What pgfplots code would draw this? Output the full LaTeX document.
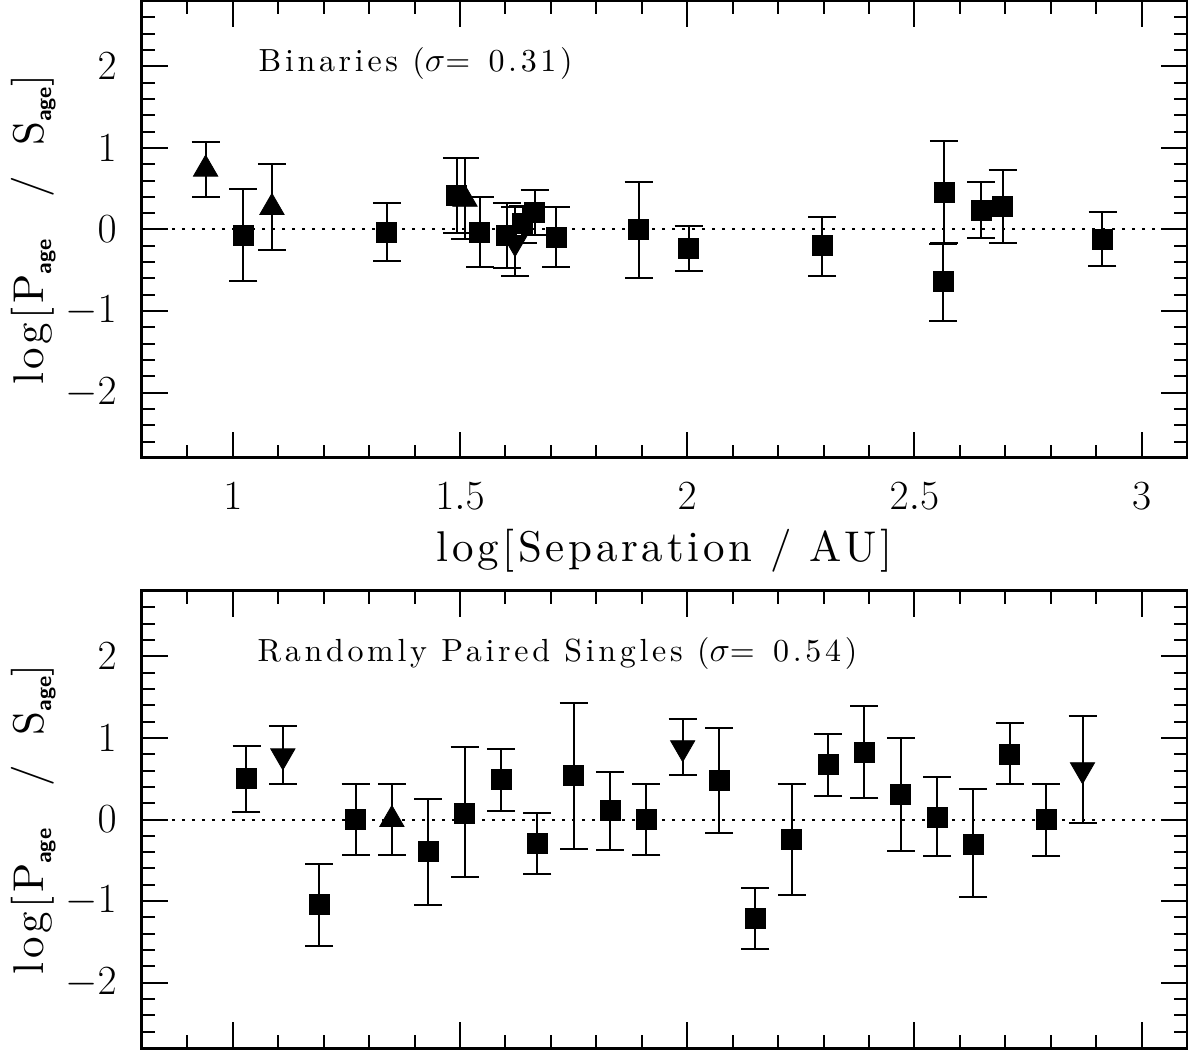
\documentclass[border=0pt]{standalone}
\usepackage{fontspec}
\usepackage{pgfplots}
\pgfplotsset{compat=1.18}
\newfontfamily\lblfont{lmroman10-regular.otf}[LetterSpace=8.5]
\newfontfamily\annfont{lmroman10-regular.otf}[LetterSpace=11.5]
\newfontfamily\subfont{lmsans10-bold.otf}

\pgfplotsset{
 panel/.style={
  scale only axis, width=522.5pt, height=228.5pt,
  xmin=0.8, xmax=3.1, ymin=-2.8, ymax=2.8,
  xtick={1,1.5,2,2.5,3},
  minor xtick={0.9,1.1,1.2,1.3,1.4,1.6,1.7,1.8,1.9,2.1,2.2,2.3,2.4,2.6,2.7,2.8,2.9,3.1},
  ytick={-2,-1,0,1,2},
  minor ytick={-2.6,-2.4,-2.2,-1.8,-1.6,-1.4,-1.2,-0.8,-0.6,-0.4,-0.2,0.2,0.4,0.6,0.8,1.2,1.4,1.6,1.8,2.2,2.4,2.6},
  tick align=inside,
  major tick length=13pt, minor tick length=6.5pt,
  every tick/.style={black, line width=1pt},
  axis line style={line width=1.5pt},
  tick label style={font=\fontsize{20}{24}\selectfont, inner sep=0pt},
  xticklabel style={yshift=-12pt},
  yticklabel style={xshift=-12.5pt},
 },
 ebar/.style={error bars/.cd, y dir=both, y explicit,
   error bar style={line width=1pt, black},
   error mark options={rotate=90, line width=1pt, mark size=7pt, black}},
 sq/.style={only marks, mark=square*, mark size=5pt, black, mark options={fill=black}, ebar},
 up/.style={only marks, mark=triangle*, mark size=7pt, black, mark options={fill=black}, ebar},
 dn/.style={only marks, mark=triangle*, mark size=7pt, black, mark options={fill=black, rotate=180}, ebar},
 zero/.style={black, line width=1pt, dash pattern=on 1.3pt off 3.7pt, forget plot},
}
\newcommand\ylab{\fontsize{21.5}{25}\lblfont log[P\raisebox{-4.2pt}{\fontsize{11}{12}\subfont age}\ \kern12pt/\kern6pt\ S\raisebox{-4.2pt}{\fontsize{11}{12}\subfont age}]}

\begin{document}
\begin{tikzpicture}
\path[use as bounding box] (-71pt,-1pt) rectangle (523pt,524pt);

% ---------- top panel: binaries ----------
\begin{axis}[panel, at={(0pt,295pt)}, anchor=south west]
\addplot[zero] coordinates {(0.8,0) (3.1,0)};
\addplot[sq] coordinates {
 (1.023,-0.07) += (0,0.57) -= (0,0.56)
 (1.339,-0.04) += (0,0.36) -= (0,0.34)
 (1.493,0.42) += (0,0.46) -= (0,0.46)
 (1.543,-0.04) += (0,0.44) -= (0,0.42)
 (1.603,-0.07) += (0,0.39) -= (0,0.40)
 (1.638,0.07) += (0,0.22) -= (0,0.23)
 (1.664,0.21) += (0,0.27) -= (0,0.28)
 (1.711,-0.10) += (0,0.37) -= (0,0.36)
 (1.893,0.00) += (0,0.58) -= (0,0.59)
 (2.003,-0.23) += (0,0.27) -= (0,0.28)
 (2.297,-0.20) += (0,0.35) -= (0,0.37)
 (2.565,0.45) += (0,0.63) -= (0,0.61)
 (2.563,-0.64) += (0,0.46) -= (0,0.48)
 (2.647,0.23) += (0,0.35) -= (0,0.34)
 (2.694,0.28) += (0,0.45) -= (0,0.44)
 (2.914,-0.12) += (0,0.34) -= (0,0.33)
};
\addplot[up] coordinates {
 (0.94,0.74) += (0,0.33) -= (0,0.34)
 (1.086,0.27) += (0,0.53) -= (0,0.52)
 (1.511,0.37) += (0,0.50) -= (0,0.49)
};
\addplot[dn] coordinates {
 (1.621,-0.16) += (0,0.43) -= (0,0.41)
};
\end{axis}

% ---------- bottom panel: randomly paired singles ----------
\begin{axis}[panel, at={(0pt,0pt)}, anchor=south west, xticklabels={}]
\addplot[zero] coordinates {(0.8,0) (3.1,0)};
\addplot[sq] coordinates {
 (1.03,0.50) += (0,0.40) -= (0,0.41)
 (1.19,-1.04) += (0,0.49) -= (0,0.51)
 (1.27,0.00) += (0,0.44) -= (0,0.44)
 (1.43,-0.39) += (0,0.64) -= (0,0.66)
 (1.51,0.08) += (0,0.81) -= (0,0.79)
 (1.59,0.49) += (0,0.37) -= (0,0.39)
 (1.67,-0.29) += (0,0.37) -= (0,0.38)
 (1.75,0.54) += (0,0.89) -= (0,0.90)
 (1.83,0.11) += (0,0.47) -= (0,0.48)
 (1.91,0.00) += (0,0.44) -= (0,0.44)
 (2.07,0.48) += (0,0.64) -= (0,0.64)
 (2.15,-1.21) += (0,0.37) -= (0,0.38)
 (2.23,-0.24) += (0,0.68) -= (0,0.68)
 (2.31,0.67) += (0,0.38) -= (0,0.38)
 (2.39,0.82) += (0,0.57) -= (0,0.56)
 (2.47,0.31) += (0,0.69) -= (0,0.695)
 (2.55,0.03) += (0,0.49) -= (0,0.48)
 (2.63,-0.30) += (0,0.675) -= (0,0.65)
 (2.71,0.80) += (0,0.38) -= (0,0.36)
 (2.79,0.00) += (0,0.44) -= (0,0.45)
};
\addplot[up] coordinates {
 (1.35,0.00) += (0,0.44) -= (0,0.44)
};
\addplot[dn] coordinates {
 (1.11,0.78) += (0,0.36) -= (0,0.34)
 (1.99,0.88) += (0,0.35) -= (0,0.34)
 (2.87,0.61) += (0,0.66) -= (0,0.65)
};
\end{axis}

% ---------- labels ----------
\node[anchor=base] at (261.25pt,243.15pt) {\fontsize{21.5}{25}\lblfont log[Separation / AU]};
\node[rotate=90, anchor=base] at (-49.35pt,409pt) {\ylab};
\node[rotate=90, anchor=base] at (-49.35pt,114.25pt) {\ylab};
\node[anchor=base west, inner sep=0pt] at (58.15pt,488.15pt) {\fontsize{16}{19}\annfont Binaries (\(\sigma\)=\kern2pt{} 0.31)};
\node[anchor=base west, inner sep=0pt] at (57.65pt,193.15pt) {\fontsize{16}{19}\annfont Randomly Paired Singles (\(\sigma\)=\kern2pt{} 0.54)};
\end{tikzpicture}
\end{document}
